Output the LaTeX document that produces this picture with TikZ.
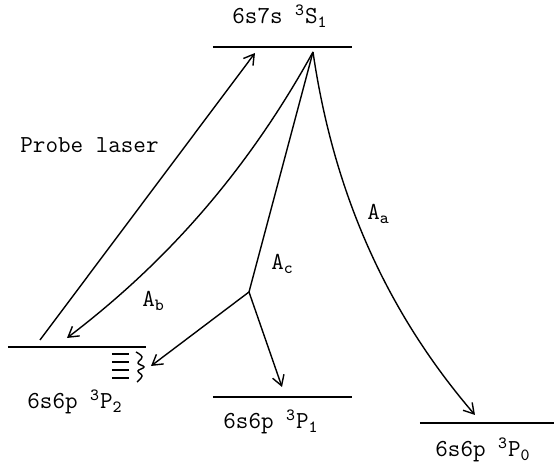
\documentclass[tikz,border=0pt]{standalone}
\usepackage{fontspec}
\usepackage{tikz}
\usetikzlibrary{arrows.meta,positioning}
\tikzset{
  base/.style={font=\ttfamily\fontsize{12.2}{14}\selectfont, inner sep=0pt, text=black},
  lbl/.style={base, anchor=base west},
  level/.style={line width=0.85pt, draw=black},
  line/.style={line width=0.7pt, draw=black},
  arr/.style={line, -{Straight Barb[length=5pt,width=6pt,line width=0.7pt]}},
  hfs/.style={line width=0.75pt, draw=black},
}

\begin{document}
\begin{tikzpicture}[x=0.5pt,y=-0.5pt]
  \useasboundingbox (0,0) rectangle (554,469);
  % levels
  \coordinate (s1w) at (213,47);  \coordinate (s1e) at (352,47);
  \coordinate (p2w) at (8,347);   \coordinate (p2e) at (146,347);
  \coordinate (p1w) at (213,397); \coordinate (p1e) at (352,397);
  \coordinate (p0w) at (420,423); \coordinate (p0e) at (554,423);
  \draw[level] (s1w) -- (s1e);
  \draw[level] (p2w) -- (p2e);
  \draw[level] (p1w) -- (p1e);
  \draw[level] (p0w) -- (p0e);
  \node[lbl] (s1lbl) at (232,24) {6s7s \textsuperscript{3}S\textsubscript{1}};
  \node[lbl] (p2lbl) at (27,409) {6s6p \textsuperscript{3}P\textsubscript{2}};
  \node[lbl] (p1lbl) at (223,429) {6s6p \textsuperscript{3}P\textsubscript{1}};
  \node[lbl] (p0lbl) at (435,457) {6s6p \textsuperscript{3}P\textsubscript{0}};
  % sublevels of 3P2
  \foreach \y in {354,362,370,378}{\draw[hfs] (112,\y) -- (129,\y);}
  \draw[line] plot[smooth,tension=0.7] coordinates {(136,352) (142,357) (138,363) (144,367) (138,371) (142,376) (137,382)};
  % transitions
  \coordinate (top) at (313,52);
  \coordinate (pump) at (40,340);
  \coordinate (pumptip) at (255,53);
  \coordinate (fork) at (249,292);
  \coordinate (btip) at (67,338);
  \coordinate (ctipl) at (151,366);
  \coordinate (ctipr) at (282,387);
  \coordinate (atip) at (475,415);
  \draw[arr] (pump) -- (pumptip);
  \draw[arr] (top) .. controls (250,166) and (171,259) .. (btip);
  \draw[line] (top) -- (fork);
  \draw[arr] (fork) -- (ctipl);
  \draw[arr] (fork) -- (ctipr);
  \draw[arr] (top) .. controls (333,189) and (384,309) .. (atip);
  % labels
  \node[lbl] (probe) at (20,153) {Probe laser};
  \node[lbl] (aa) at (367,220) {A\textsubscript{a}};
  \node[lbl] (ab) at (142,307) {A\textsubscript{b}};
  \node[lbl] (ac) at (271,270) {A\textsubscript{c}};
\end{tikzpicture}
\end{document}
